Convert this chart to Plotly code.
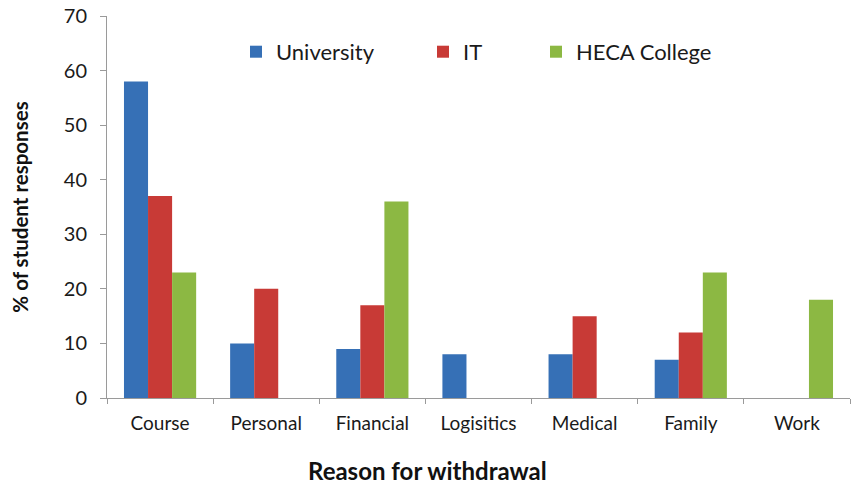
import plotly.graph_objects as go

categories = ["Course", "Personal", "Financial", "Logisitics", "Medical", "Family", "Work"]
university = [58, 10, 9, 8, 8, 7, 0]
it = [37, 20, 17, 0, 15, 12, 0]
heca = [23, 0, 36, 0, 0, 23, 18]
y_ticks = [0, 10, 20, 30, 40, 50, 60, 70]

series = [
    ("University", university, "#3670b6", "legend", 0.1736),
    ("IT", it, "#c83a36", "legend2", 0.4253),
    ("HECA College", heca, "#8cb843", "legend3", 0.5774),
]

fig = go.Figure()
for name, vals, col, leg, _ in series:
    fig.add_trace(go.Bar(
        x=categories, y=vals, name=name, legend=leg,
        marker=dict(color=col, line=dict(width=0)),
    ))

legend_style = dict(
    orientation="h", y=0.906, yanchor="middle", xanchor="left",
    font=dict(size=22, color="#1a1a1a"), bgcolor="rgba(0,0,0,0)",
    visible=True,
)
layout_legends = {}
for name, vals, col, leg, xpos in series:
    layout_legends[leg] = dict(legend_style, x=xpos)

fig.update_layout(
    width=860, height=490,
    showlegend=True,
    paper_bgcolor="white", plot_bgcolor="white",
    margin=dict(l=107, r=10, t=16, b=92),
    barmode="group", bargap=0.32, bargroupgap=0,
    font=dict(family="Lato, 'Open Sans', sans-serif", color="#1a1a1a"),
    xaxis=dict(
        automargin=False,
        showline=True, linecolor="#9a9a9a", linewidth=1,
        ticks="outside", tickson="boundaries", ticklen=5, tickcolor="#9a9a9a",
        tickfont=dict(size=19, color="#1a1a1a"), ticklabelstandoff=8,
        showgrid=False,
    ),
    yaxis=dict(
        automargin=False,
        range=[0, 70], tickvals=y_ticks,
        showline=True, linecolor="#9a9a9a", linewidth=1,
        ticks="outside", ticklen=6, tickcolor="#9a9a9a",
        tickfont=dict(size=20, color="#1a1a1a"), ticklabelstandoff=9,
        ticklabeloverflow="allow",
        showgrid=False, zeroline=False,
        title=dict(text="<b>% of student responses</b>", font=dict(size=20.5, color="#111"), standoff=29),
    ),
    annotations=[dict(
        text="<b>Reason for withdrawal</b>", xref="paper", yref="paper",
        x=0.4307, y=-0.1885, xanchor="center", yanchor="middle", showarrow=False,
        font=dict(size=24, color="#111"),
    )],
    **layout_legends,
)

fig.write_html("out.html", config={"displayModeBar": False},
               post_script="document.body.style.margin='0';")
